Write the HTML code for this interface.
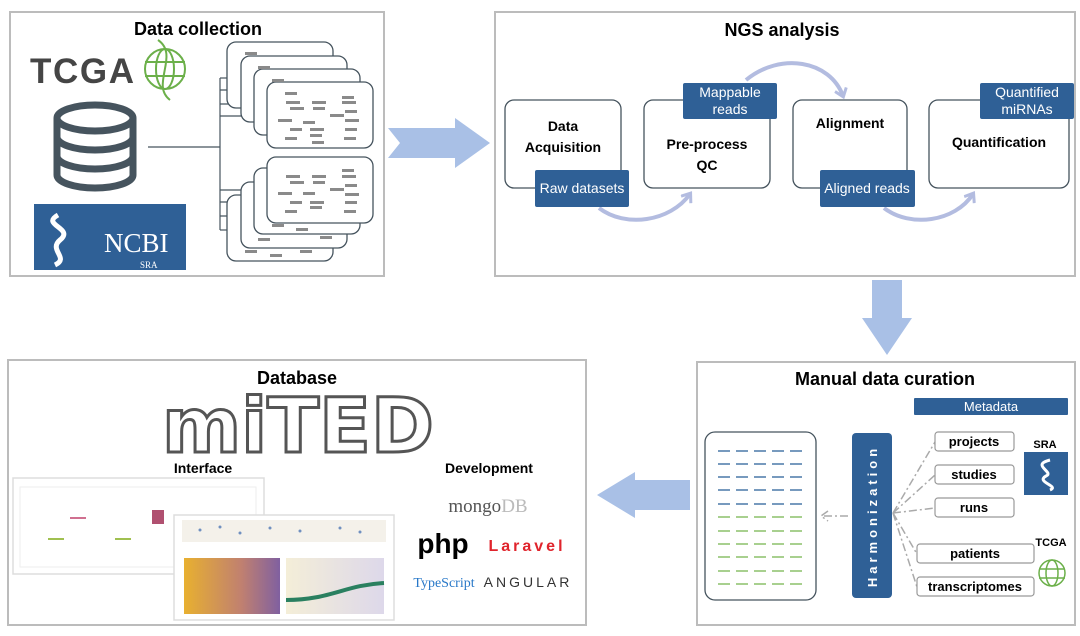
<!DOCTYPE html>
<html><head><meta charset="utf-8"><style>
html,body{margin:0;padding:0;background:#fff;width:1080px;height:636px;overflow:hidden}
svg text{font-family:"Liberation Sans","DejaVu Sans",sans-serif}
</style></head><body>
<svg width="1080" height="636" viewBox="0 0 1080 636" xmlns="http://www.w3.org/2000/svg">
<defs>
<g id="card"><rect width="106" height="66" rx="9" fill="#fff" stroke="#46545e" stroke-width="1.3"/></g>
<marker id="ah" markerUnits="userSpaceOnUse" markerWidth="14" markerHeight="14" refX="8" refY="7" orient="auto"><path d="M1,1 L9,7 L1,13" fill="none" stroke="#b3bce0" stroke-width="3"/></marker>
<linearGradient id="g1" x1="0" x2="1"><stop offset="0" stop-color="#e8b030"/><stop offset="0.6" stop-color="#c08070"/><stop offset="1" stop-color="#8060a0"/></linearGradient>
<linearGradient id="g2" x1="0" x2="1"><stop offset="0" stop-color="#f4eed8"/><stop offset="1" stop-color="#ddd8ea"/></linearGradient>
</defs>
<!-- Panel 1 -->
<rect x="10" y="12" width="374" height="264" fill="#fff" stroke="#bcbcbc" stroke-width="2"/>
<text x="198" y="35" font-size="18" font-weight="bold" text-anchor="middle">Data collection</text>
<text x="30" y="83" font-size="35" font-weight="bold" fill="#454545" textLength="104">TCGA</text>
<g stroke="#6cb04a" stroke-width="2" fill="none"><circle cx="165" cy="69" r="20"/><ellipse cx="165" cy="69" rx="9" ry="20"/><line x1="145" y1="62" x2="185" y2="62"/><line x1="145" y1="76" x2="185" y2="76"/><path d="M158,40 C180,55 150,85 170,100"/></g>
<g stroke="#46545e" stroke-width="7" fill="none"><ellipse cx="95" cy="118" rx="38" ry="13"/><path d="M57,118 V175 A38,13 0 0 0 133,175 V118"/><path d="M57,137 A38,13 0 0 0 133,137"/><path d="M57,156 A38,13 0 0 0 133,156"/></g>
<rect x="34" y="204" width="152" height="66" fill="#2f6096"/>
<path d="M58,215 C40,225 75,228 60,240 C48,250 70,258 55,265" stroke="#fff" stroke-width="5" fill="none"/>
<text x="104" y="252" font-size="27" fill="#fff" style="font-family:'Liberation Serif',serif">NCBI</text>
<text x="140" y="268" font-size="9" fill="#fff" style="font-family:'Liberation Serif',serif">SRA</text>
<g stroke="#46545e" stroke-width="1.2"><line x1="148" y1="147" x2="220" y2="147"/><line x1="220" y1="78" x2="220" y2="230"/>
<line x1="220" y1="78" x2="228" y2="78"/><line x1="220" y1="90" x2="241" y2="90"/><line x1="220" y1="104" x2="254" y2="104"/><line x1="220" y1="116" x2="268" y2="116"/>
<line x1="220" y1="190" x2="268" y2="190"/><line x1="220" y1="202" x2="254" y2="202"/><line x1="220" y1="216" x2="241" y2="216"/><line x1="220" y1="230" x2="228" y2="230"/></g>
<use href="#card" x="227" y="195"/><use href="#card" x="241" y="182"/><use href="#card" x="254" y="168"/><use href="#card" x="267" y="157"/>
<use href="#card" x="227" y="42"/><use href="#card" x="241" y="56"/><use href="#card" x="254" y="69"/><use href="#card" x="267" y="82"/>
<g fill="#8a8a8a">
<rect x="245" y="52" width="12" height="3"/><rect x="258" y="66" width="12" height="3"/><rect x="272" y="79" width="12" height="3"/>
<rect x="285" y="92" width="12" height="3"/><rect x="342" y="96" width="12" height="3"/><rect x="286" y="101" width="14" height="3"/><rect x="312" y="101" width="14" height="3"/><rect x="342" y="101" width="14" height="3"/><rect x="290" y="107" width="14" height="3"/><rect x="313" y="107" width="12" height="3"/><rect x="330" y="114" width="14" height="3"/><rect x="345" y="110" width="12" height="3"/><rect x="278" y="119" width="14" height="3"/><rect x="303" y="121" width="12" height="3"/><rect x="345" y="119" width="14" height="3"/><rect x="290" y="128" width="12" height="3"/><rect x="310" y="128" width="14" height="3"/><rect x="345" y="128" width="12" height="3"/><rect x="285" y="137" width="12" height="3"/><rect x="310" y="134" width="12" height="3"/><rect x="344" y="137" width="12" height="3"/><rect x="312" y="141" width="12" height="3"/>
<rect x="342" y="169" width="12" height="3"/><rect x="286" y="175" width="14" height="3"/><rect x="312" y="175" width="14" height="3"/><rect x="342" y="175" width="14" height="3"/><rect x="290" y="181" width="14" height="3"/><rect x="313" y="181" width="12" height="3"/><rect x="330" y="188" width="14" height="3"/><rect x="345" y="184" width="12" height="3"/><rect x="278" y="192" width="14" height="3"/><rect x="303" y="192" width="12" height="3"/><rect x="345" y="193" width="14" height="3"/><rect x="290" y="201" width="12" height="3"/><rect x="310" y="201" width="14" height="3"/><rect x="345" y="201" width="12" height="3"/><rect x="285" y="210" width="12" height="3"/><rect x="310" y="206" width="12" height="3"/><rect x="344" y="210" width="12" height="3"/>
<rect x="272" y="224" width="12" height="3"/><rect x="296" y="228" width="12" height="3"/><rect x="258" y="238" width="12" height="3"/><rect x="320" y="236" width="12" height="3"/><rect x="245" y="250" width="12" height="3"/><rect x="270" y="254" width="12" height="3"/><rect x="300" y="250" width="12" height="3"/></g>
<!-- arrow 1 -->
<path d="M388,128 L455,128 L455,118 L490,143 L455,168 L455,158 L388,158 L400,143 Z" fill="#a9c0e6"/>
<!-- Panel 2 -->
<rect x="495" y="12" width="580" height="264" fill="#fff" stroke="#bcbcbc" stroke-width="2"/>
<text x="782" y="36" font-size="18" font-weight="bold" text-anchor="middle">NGS analysis</text>
<g fill="none" stroke="#b3bce0" stroke-width="4" marker-end="url(#ah)">
<path d="M599,208 C625,228 670,222 690,194"/><path d="M746,80 C780,52 830,60 843,96"/><path d="M884,208 C910,228 955,222 973,194"/></g>
<g fill="#fff" stroke="#46545e" stroke-width="1.3">
<rect x="505" y="100" width="116" height="88" rx="9"/><rect x="644" y="100" width="126" height="88" rx="9"/><rect x="793" y="100" width="114" height="88" rx="9"/><rect x="929" y="100" width="140" height="88" rx="9"/></g>
<g font-size="14" font-weight="bold" text-anchor="middle">
<text x="563" y="131">Data</text><text x="563" y="152">Acquisition</text>
<text x="707" y="149">Pre-process</text><text x="707" y="170">QC</text>
<text x="850" y="128">Alignment</text><text x="999" y="147">Quantification</text></g>
<g fill="#2f6096"><rect x="535" y="170" width="94" height="37" rx="2"/><rect x="683" y="83" width="94" height="36" rx="2"/><rect x="820" y="170" width="95" height="37" rx="2"/><rect x="980" y="83" width="94" height="36" rx="2"/></g>
<g fill="#fff" font-size="14" text-anchor="middle">
<text x="582" y="193">Raw datasets</text><text x="730" y="97">Mappable</text><text x="730" y="114">reads</text>
<text x="867" y="193">Aligned reads</text><text x="1027" y="97">Quantified</text><text x="1027" y="114">miRNAs</text></g>
<!-- arrow 2 -->
<path d="M872,280 L902,280 L902,318 L912,318 L887,355 L862,318 L872,318 Z" fill="#a9c0e6"/>
<!-- Panel 4 -->
<rect x="697" y="362" width="378" height="263" fill="#fff" stroke="#bcbcbc" stroke-width="2"/>
<text x="885" y="385" font-size="18" font-weight="bold" text-anchor="middle">Manual data curation</text>
<rect x="914" y="398" width="154" height="17" fill="#2f6096" rx="1"/>
<text x="991" y="411" font-size="13" fill="#fff" text-anchor="middle">Metadata</text>
<rect x="705" y="432" width="111" height="168" rx="10" fill="#fff" stroke="#46545e" stroke-width="1.3"/>
<g stroke-width="1.6" stroke-dasharray="12,6">
<g stroke="#4a78a8"><line x1="718" y1="451" x2="804" y2="451"/><line x1="718" y1="464" x2="804" y2="464"/><line x1="718" y1="477" x2="804" y2="477"/><line x1="718" y1="490" x2="804" y2="490"/><line x1="718" y1="504" x2="804" y2="504"/></g>
<g stroke="#8cc06a"><line x1="718" y1="517" x2="804" y2="517"/><line x1="718" y1="531" x2="804" y2="531"/><line x1="718" y1="544" x2="804" y2="544"/><line x1="718" y1="557" x2="804" y2="557"/><line x1="718" y1="571" x2="804" y2="571"/><line x1="718" y1="584" x2="804" y2="584"/></g></g>
<rect x="852" y="433" width="40" height="165" rx="4" fill="#2f6096"/>
<text transform="translate(877,516) rotate(-90)" font-size="13" font-weight="bold" fill="#fff" text-anchor="middle" letter-spacing="4">Harmonization</text>
<g stroke="#aaa" stroke-width="1.5" fill="none" stroke-dasharray="8,3,2,3">
<line x1="848" y1="516" x2="822" y2="516"/><path d="M828,511 L821,516 L828,521"/>
<line x1="893" y1="513" x2="935" y2="442"/><line x1="893" y1="513" x2="935" y2="475"/><line x1="893" y1="513" x2="935" y2="508"/><line x1="893" y1="513" x2="917" y2="554"/><line x1="893" y1="513" x2="917" y2="587"/></g>
<g fill="#fff" stroke="#999" stroke-width="1.2"><rect x="935" y="432" width="79" height="19" rx="3"/><rect x="935" y="465" width="79" height="19" rx="3"/><rect x="935" y="498" width="79" height="19" rx="3"/><rect x="917" y="544" width="117" height="19" rx="3"/><rect x="917" y="577" width="117" height="19" rx="3"/></g>
<g font-size="13" font-weight="bold" text-anchor="middle"><text x="974" y="446">projects</text><text x="974" y="479">studies</text><text x="974" y="512">runs</text><text x="975" y="558">patients</text><text x="975" y="591">transcriptomes</text></g>
<text x="1045" y="448" font-size="11" font-weight="bold" text-anchor="middle">SRA</text>
<rect x="1024" y="452" width="44" height="43" fill="#2f6096"/>
<path d="M1050,460 C1030,465 1055,472 1046,476 C1035,482 1060,486 1050,490" stroke="#fff" stroke-width="3" fill="none"/>
<text x="1051" y="546" font-size="11" font-weight="bold" text-anchor="middle">TCGA</text>
<g stroke="#6cb04a" stroke-width="1.5" fill="none"><circle cx="1052" cy="573" r="13"/><ellipse cx="1052" cy="573" rx="6" ry="13"/><line x1="1039" y1="569" x2="1065" y2="569"/><line x1="1039" y1="578" x2="1065" y2="578"/></g>
<!-- arrow 3 -->
<path d="M690,480 L635,480 L635,472 L597,495 L635,518 L635,510 L690,510 Z" fill="#a9c0e6"/>
<!-- Panel 3 -->
<rect x="8" y="360" width="578" height="265" fill="#fff" stroke="#bcbcbc" stroke-width="2"/>
<text x="297" y="384" font-size="18" font-weight="bold" text-anchor="middle">Database</text>
<text x="162" y="452" font-size="76" font-weight="900" fill="#fff" stroke="#555" stroke-width="3" textLength="272" lengthAdjust="spacingAndGlyphs" style="font-family:'DejaVu Sans',sans-serif">miTED</text>
<text x="203" y="473" font-size="14" font-weight="bold" text-anchor="middle">Interface</text>
<text x="489" y="473" font-size="14" font-weight="bold" text-anchor="middle">Development</text>
<text x="488" y="512" font-size="19" fill="#555" text-anchor="middle" style="font-family:'Liberation Serif',serif">mongo<tspan fill="#bbb">DB</tspan></text>
<text x="443" y="553" font-size="28" font-weight="bold" text-anchor="middle">php</text>
<text x="527" y="551" font-size="16" font-weight="bold" fill="#e0242c" text-anchor="middle" letter-spacing="3">Laravel</text>
<text x="444" y="587" font-size="14" fill="#2878c8" text-anchor="middle" style="font-family:'Liberation Serif',serif">TypeScript</text>
<text x="528" y="587" font-size="14" fill="#333" text-anchor="middle" letter-spacing="3">ANGULAR</text>
<rect x="13" y="478" width="251" height="96" fill="#fff" stroke="#ddd" stroke-width="1.5"/>
<rect x="20" y="487" width="236" height="80" fill="#fff" stroke="#eee"/>
<rect x="152" y="510" width="12" height="14" fill="#b05070"/><rect x="70" y="517" width="16" height="2" fill="#d07090"/><rect x="48" y="538" width="16" height="2" fill="#a0c050"/><rect x="115" y="538" width="16" height="2" fill="#a0c050"/>
<rect x="174" y="515" width="220" height="105" fill="#fff" stroke="#ddd" stroke-width="1.5"/>
<rect x="182" y="520" width="204" height="22" fill="#f4f1ea"/>
<g fill="#7090c0"><circle cx="200" cy="530" r="1.5"/><circle cx="220" cy="527" r="1.5"/><circle cx="240" cy="533" r="1.5"/><circle cx="270" cy="528" r="1.5"/><circle cx="300" cy="531" r="1.5"/><circle cx="340" cy="528" r="1.5"/><circle cx="360" cy="532" r="1.5"/></g>
<rect x="184" y="558" width="96" height="56" fill="url(#g1)"/>
<rect x="286" y="558" width="98" height="56" fill="url(#g2)"/>
<path d="M286,600 C330,600 345,585 384,583" stroke="#2a8060" stroke-width="4" fill="none"/>
</svg>
</body></html>
